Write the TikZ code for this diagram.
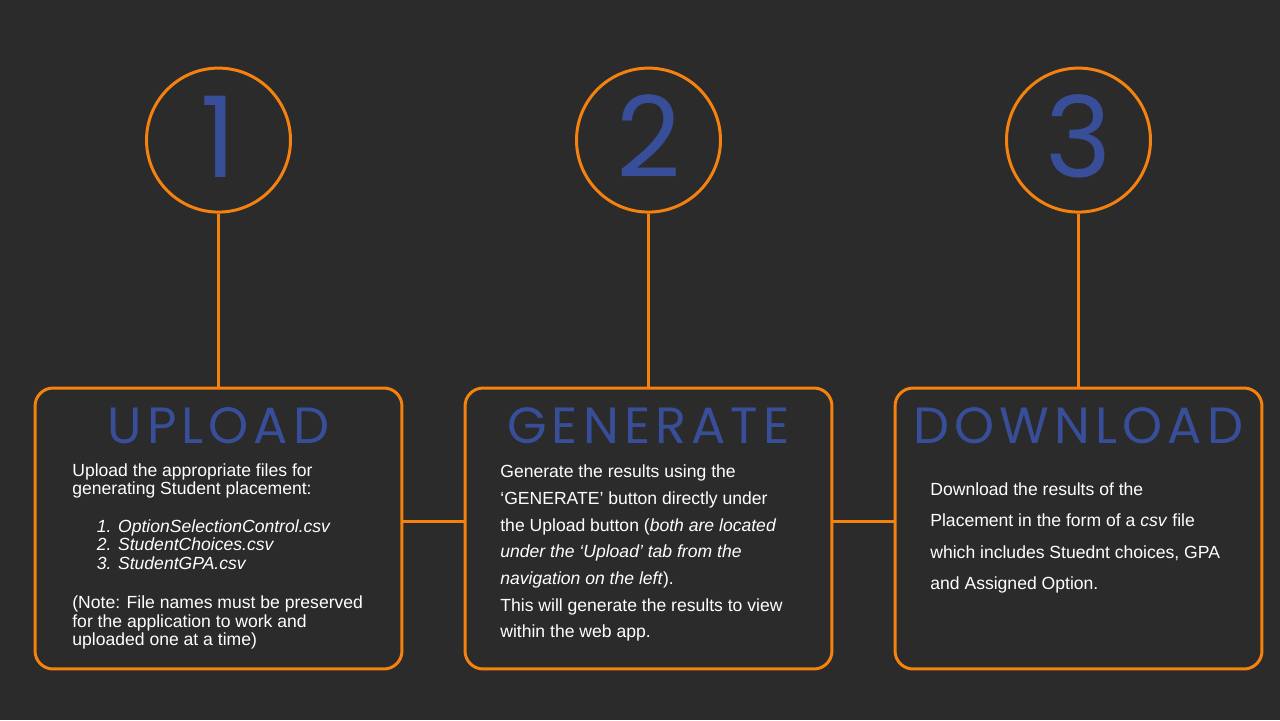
\documentclass[tikz,border=0pt]{standalone}
\usepackage{fontspec}
\setmainfont{Liberation Sans}
\newfontfamily\headfont{Poppins}[LetterSpace=10]
\newfontfamily\digitfont{Poppins}
\usetikzlibrary{positioning}
\definecolor{bgdark}{RGB}{43,43,43}
\definecolor{steporange}{RGB}{245,130,15}
\definecolor{stepblue}{RGB}{57,78,152}

\begin{document}
\begin{tikzpicture}[x=0.02cm, y=-0.02cm,
    stage/.style={draw=steporange, line width=1.7pt, rounded corners=0.36cm,
      minimum width=7.34cm, minimum height=5.62cm},
    numring/.style={circle, draw=steporange, line width=1.7pt, minimum size=2.88cm, inner sep=0},
    numtext/.style={text=stepblue, font=\digitfont\fontsize{64}{64}\selectfont, inner sep=0, anchor=base},
    stagetitle/.style={text=stepblue, font=\headfont\fontsize{29}{29}\selectfont, inner sep=0, anchor=base},
    body/.style={text=white, inner sep=0, anchor=north west, align=left},
    link/.style={draw=steporange, line width=1.7pt}]
  \fill[bgdark] (0,0) rectangle (1280,720);
  % the three stages
  \node[stage] (up) at (218.5,528.5) {};
  \node[stage] (gen) at (648.5,528.5) {};
  \node[stage] (down) at (1078.5,528.5) {};
  % numbered rings
  \node[numring, above=3.46cm of up] (n1) {};
  \node[numring, above=3.46cm of gen] (n2) {};
  \node[numring, above=3.46cm of down] (n3) {};
  \node[numtext] (d1) at ([yshift=-0.74cm]n1.center) {1};
  \node[numtext] (d2) at ([yshift=-0.74cm]n2.center) {2};
  \node[numtext] (d3) at ([yshift=-0.74cm]n3.center) {3};
  % titles
  \node[stagetitle] (t1) at ([yshift=-1.14cm]up.north) {UPLOAD};
  \node[stagetitle] (t2) at ([yshift=-1.14cm]gen.north) {GENERATE};
  \node[stagetitle] (t3) at ([yshift=-1.14cm]down.north) {DOWNLOAD};
  % connectors
  \draw[link] (n1) -- (up);
  \draw[link] (n2) -- (gen);
  \draw[link] (n3) -- (down);
  \draw[link] ([yshift=0.15cm]up.east) -- ([yshift=0.15cm]gen.west);
  \draw[link] ([yshift=0.15cm]gen.east) -- ([yshift=0.15cm]down.west);
  % texts
  \node[body, font=\fontsize{10}{10.5}\selectfont] (b1) at (72,463) {%
    Upload the appropriate files for\\
    generating Student placement:\\[11pt]
    \hspace*{14pt}\textit{1. OptionSelectionControl.csv}\\
    \hspace*{14pt}\textit{2. StudentChoices.csv}\\
    \hspace*{14pt}\textit{3. StudentGPA.csv}\\[12pt]
    (Note: File names must be preserved\\
    for the application to work and\\
    uploaded one at a time)};
  \node[body, font=\fontsize{10}{15.2}\selectfont] (b2) at (500,464.5) {%
    Generate the results using the\\
    ‘GENERATE’ button directly under\\
    the Upload button (\textit{both are located}\\
    \textit{under the ‘Upload’ tab from the}\\
    \textit{navigation on the left}).\\
    This will generate the results to view\\
    within the web app.};
  \node[body, font=\fontsize{10}{18}\selectfont] (b3) at (930,482) {%
    Download the results of the\\
    Placement in the form of a \textit{csv} file\\
    which includes Stuednt choices, GPA\\
    and Assigned Option.};
\end{tikzpicture}
\end{document}
